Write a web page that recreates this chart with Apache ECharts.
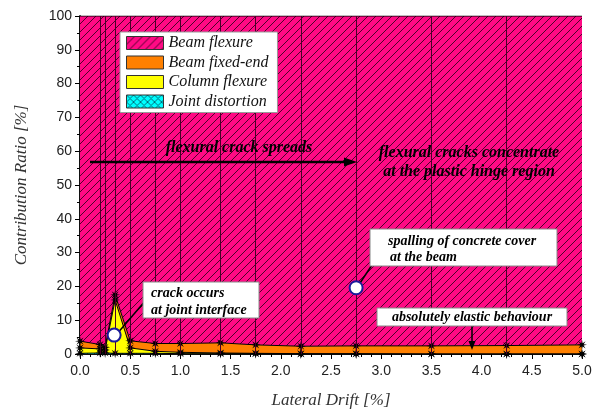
<!DOCTYPE html>
<html>
<head>
<meta charset="utf-8">
<script src="https://cdn.jsdelivr.net/npm/echarts@6/dist/echarts.min.js"></script>
<style>html,body{margin:0;padding:0;background:#fff}#c{width:610px;height:414px}</style>
</head>
<body>
<div id="c"></div>
<script>
// ---- data ----
const drift = [0, 0.2, 0.25, 0.35, 0.5, 0.75, 1.0, 1.4, 1.75, 2.2, 2.75, 3.5, 4.25, 5.0];
const jointDistortion = [0.2, 0.3, 0.3, 0.2, 0.2, 0.2, 0.1, 0.1, 0.1, 0, 0, 0, 0, 0];
const columnFlexure   = [1.6, 1.2, 0.9, 15.8, 1.6, 0.6, 0.4, 0.2, 0.1, 0.1, 0.1, 0, 0, 0];
const beamFixedEnd    = [2.0, 1.3, 0.8, 1.5, 2.1, 2.3, 2.6, 3.0, 2.5, 2.2, 2.3, 2.4, 2.5, 2.7];
const beamFlexure     = [96.2, 97.2, 98.0, 82.5, 96.1, 96.9, 96.9, 96.7, 97.3, 97.7, 97.6, 97.6, 97.5, 97.3];
const seriesNames = ['Beam flexure', 'Beam fixed-end', 'Column flexure', 'Joint distortion'];
const annotationPoints = [[0.34, 5.6], [2.75, 19.6]];
const xTicks = {min: 0, max: 5, interval: 0.5};
const yTicks = {min: 0, max: 100, interval: 10};

// ---- patterns ----
function hatch(bg, line, size, cross) {
  const c = document.createElement('canvas');
  c.width = c.height = size;
  const g = c.getContext('2d');
  g.fillStyle = bg; g.fillRect(0, 0, size, size);
  g.strokeStyle = line; g.lineWidth = 0.9;
  g.beginPath();
  g.moveTo(0, size); g.lineTo(size, 0);
  g.moveTo(-size / 2, size / 2); g.lineTo(size / 2, -size / 2);
  g.moveTo(size / 2, size * 1.5); g.lineTo(size * 1.5, size / 2);
  if (cross) {
    g.moveTo(0, 0); g.lineTo(size, size);
    g.moveTo(-size / 2, size / 2); g.lineTo(size / 2, size * 1.5);
    g.moveTo(size / 2, -size / 2); g.lineTo(size * 1.5, size / 2);
  }
  g.stroke();
  return c;
}
const pinkPat = {image: hatch('#ff0a84', '#3a0020', 8, false), repeat: 'repeat'};
const cyanPat = {image: hatch('#00ffff', '#006070', 7, true), repeat: 'repeat'};
const orange = '#ff8000';
const yellow = '#ffff00';

// asterisk symbol
let pts = [];
for (let k = 0; k < 16; k++) {
  const a = k * Math.PI / 8 - Math.PI / 2;
  const r = (k % 2 === 0) ? 10 : 3.5;
  pts.push((10 + r * Math.cos(a)).toFixed(2) + ' ' + (10 + r * Math.sin(a)).toFixed(2));
}
const star = 'path://M' + pts.join(' L') + ' Z';

// value is stored first so that ECharts stacks the y dimension
function mk(name, vals, fill, withSym) {
  return {
    name: name, type: 'line', stack: 'total',
    data: drift.map((x, i) => [vals[i], x]),
    encode: {x: 1, y: 0},
    symbol: withSym ? star : 'none', symbolSize: 10, showSymbol: withSym,
    lineStyle: {color: '#000', width: 1},
    itemStyle: {color: '#000'},
    areaStyle: {color: fill, opacity: 1},
    emphasis: {disabled: true},
    z: 2
  };
}

const serif = '"Liberation Serif", "Times New Roman", serif';
const sans = '"Liberation Sans", Arial, sans-serif';
const boldIt = 'italic bold 14px ' + serif;

const chart = echarts.init(document.getElementById('c'), null, {renderer: 'canvas'});
const flex = mk(seriesNames[0], beamFlexure, pinkPat, false);
flex.markLine = {
  silent: true, symbol: 'none', label: {show: false},
  lineStyle: {color: '#4a0028', width: 1, type: 'solid'},
  data: drift.slice(1, -1).map(x => ({xAxis: x}))
};

chart.setOption({
  animation: false,
  grid: {left: 80, right: 28, top: 16, bottom: 58},
  xAxis: [{
    type: 'value', min: xTicks.min, max: xTicks.max, interval: xTicks.interval,
    name: 'Lateral Drift [%]', nameLocation: 'middle', nameGap: 38,
    nameTextStyle: {fontFamily: serif, fontStyle: 'italic', fontSize: 17, color: '#333'},
    axisLine: {show: true, lineStyle: {color: '#000', width: 1.5}},
    axisTick: {show: true, inside: false, length: 5, lineStyle: {color: '#000'}},
    minorTick: {show: true, splitNumber: 5, length: 3, lineStyle: {color: '#000'}},
    axisLabel: {fontFamily: sans, fontSize: 14, color: '#222', margin: 10, formatter: v => v.toFixed(1)},
    splitLine: {show: false}
  }, {
    type: 'value', position: 'top', min: xTicks.min, max: xTicks.max, interval: xTicks.interval,
    axisLine: {show: true, lineStyle: {color: '#000', width: 1.5}},
    axisTick: {show: true, inside: true, length: 5, lineStyle: {color: '#000'}},
    minorTick: {show: true, splitNumber: 5, length: 3, lineStyle: {color: '#000'}},
    axisLabel: {show: false}, splitLine: {show: false}
  }],
  yAxis: [{
    type: 'value', min: yTicks.min, max: yTicks.max, interval: yTicks.interval,
    name: 'Contribution Ratio [%]', nameLocation: 'middle', nameGap: 50,
    nameTextStyle: {fontFamily: serif, fontStyle: 'italic', fontSize: 17, color: '#333'},
    axisLine: {show: true, lineStyle: {color: '#000', width: 1.5}},
    axisTick: {show: true, inside: false, length: 5, lineStyle: {color: '#000'}},
    minorTick: {show: true, splitNumber: 2, length: 3, lineStyle: {color: '#000'}},
    axisLabel: {fontFamily: sans, fontSize: 14, color: '#222', margin: 8},
    splitLine: {show: false}
  }, {
    type: 'value', position: 'right', min: yTicks.min, max: yTicks.max, interval: yTicks.interval,
    axisLine: {show: true, lineStyle: {color: '#000', width: 1.5}},
    axisTick: {show: true, inside: true, length: 5, lineStyle: {color: '#000'}},
    minorTick: {show: true, splitNumber: 2, length: 3, lineStyle: {color: '#000'}},
    axisLabel: {show: false}, splitLine: {show: false}
  }],
  legend: {
    orient: 'vertical', left: 120, top: 32, z: 50,
    padding: [3, 9, 3, 6], itemWidth: 37, itemHeight: 13, itemGap: 3.5,
    backgroundColor: '#fff', borderColor: '#999', borderWidth: 1,
    selectedMode: false,
    textStyle: {fontFamily: serif, fontStyle: 'italic', fontSize: 16, color: '#111', lineHeight: 16},
    data: [
      {name: seriesNames[0], icon: 'rect', itemStyle: {color: pinkPat, borderColor: '#333', borderWidth: 1}},
      {name: seriesNames[1], icon: 'rect', itemStyle: {color: orange, borderColor: '#333', borderWidth: 1}},
      {name: seriesNames[2], icon: 'rect', itemStyle: {color: yellow, borderColor: '#333', borderWidth: 1}},
      {name: seriesNames[3], icon: 'rect', itemStyle: {color: cyanPat, borderColor: '#333', borderWidth: 1}}
    ]
  },
  series: [
    mk(seriesNames[3], jointDistortion, cyanPat, true),
    mk(seriesNames[2], columnFlexure, yellow, true),
    mk(seriesNames[1], beamFixedEnd, orange, true),
    flex,
    {
      type: 'scatter', data: annotationPoints, symbol: 'circle', symbolSize: 13, z: 120,
      itemStyle: {color: '#ffffff', borderColor: '#1a1a9a', borderWidth: 2, opacity: 1},
      emphasis: {disabled: true},
      silent: true, tooltip: {show: false}
    }
  ],
  graphic: [
    {type: 'line', z: 100, shape: {x1: 90, y1: 162, x2: 348, y2: 162}, style: {stroke: '#000', lineWidth: 2.5}},
    {type: 'polygon', z: 100, shape: {points: [[357, 162], [344, 157.5], [344, 166.5]]}, style: {fill: '#000'}},
    {type: 'text', z: 102, style: {text: 'flexural crack spreads', x: 239, y: 148, font: 'italic bold 16px ' + serif, fill: '#000', align: 'center', verticalAlign: 'middle'}},
    {type: 'text', z: 102, style: {text: 'flexural cracks concentrate', x: 469, y: 153, font: 'italic bold 16px ' + serif, fill: '#000', align: 'center', verticalAlign: 'middle'}},
    {type: 'text', z: 102, style: {text: 'at the plastic hinge region', x: 469, y: 172, font: 'italic bold 16px ' + serif, fill: '#000', align: 'center', verticalAlign: 'middle'}},
    {type: 'line', z: 100, shape: {x1: 116, y1: 335, x2: 146, y2: 300}, style: {stroke: '#000', lineWidth: 1.5}},
    {type: 'rect', z: 101, shape: {x: 143, y: 282, width: 116, height: 36}, style: {fill: '#fff', stroke: '#888', lineWidth: 1}},
    {type: 'text', z: 102, style: {text: 'crack occurs', x: 151, y: 293, font: boldIt, fill: '#000', align: 'left', verticalAlign: 'middle'}},
    {type: 'text', z: 102, style: {text: 'at joint interface', x: 151, y: 310, font: boldIt, fill: '#000', align: 'left', verticalAlign: 'middle'}},
    {type: 'line', z: 100, shape: {x1: 358, y1: 286, x2: 384, y2: 247}, style: {stroke: '#000', lineWidth: 1.5}},
    {type: 'rect', z: 101, shape: {x: 370, y: 229, width: 187, height: 37}, style: {fill: '#fff', stroke: '#888', lineWidth: 1}},
    {type: 'text', z: 102, style: {text: 'spalling of concrete cover', x: 388, y: 241, font: boldIt, fill: '#000', align: 'left', verticalAlign: 'middle'}},
    {type: 'text', z: 102, style: {text: 'at the beam', x: 390, y: 257, font: boldIt, fill: '#000', align: 'left', verticalAlign: 'middle'}},
    {type: 'rect', z: 101, shape: {x: 377, y: 308, width: 190, height: 18}, style: {fill: '#fff', stroke: '#888', lineWidth: 1}},
    {type: 'text', z: 102, style: {text: 'absolutely elastic behaviour', x: 472, y: 317, font: boldIt, fill: '#000', align: 'center', verticalAlign: 'middle'}},
    {type: 'line', z: 100, shape: {x1: 472, y1: 326, x2: 472, y2: 342}, style: {stroke: '#000', lineWidth: 1.5}},
    {type: 'polygon', z: 100, shape: {points: [[472, 350], [468.5, 341], [475.5, 341]]}, style: {fill: '#000'}}
  ]
});
</script>
</body>
</html>
